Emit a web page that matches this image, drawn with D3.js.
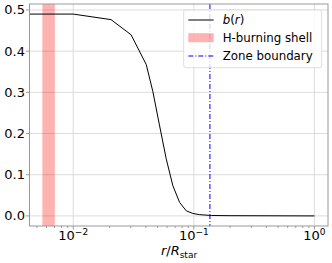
<!DOCTYPE html>
<html>
  <head>
    <meta charset="utf-8">
    <script src="https://cdn.jsdelivr.net/npm/d3@7"></script>
    <style>
      body { margin: 0; background: #fff; }
      text { font-family: "DejaVu Sans", sans-serif; fill: #000; }
    </style>
  </head>
  <body>
    <svg width="332" height="263"></svg>
    <script>
      // data
      const radius = [0.00434, 0.01, 0.0206, 0.0302, 0.0403, 0.0457, 0.0519, 0.059, 0.067, 0.0762, 0.0866, 0.0983, 0.112, 0.14, 0.2, 1.0];
      const bValues = [0.49, 0.49, 0.4765, 0.4397, 0.3676, 0.3025, 0.2206, 0.139, 0.0735, 0.0328, 0.0123, 0.0059, 0.003, 0.001, 0.0005, 0];
      const shellRange = [0.00555, 0.00704];
      const zoneBoundary = 0.136;
      const yTicks = [0.0, 0.1, 0.2, 0.3, 0.4, 0.5];
      const xTicks = [0.01, 0.1, 1];
      const xTickExp = ["\u22122", "\u22121", "0"];
      const legendLabels = ["b(r)", "H-burning shell", "Zone boundary"];

      const pLeft = 29.5, pRight = 328, pTop = 4, pBottom = 226;
      const svg = d3.select("svg");

      let x = d3.scaleLog().domain([0.00434, 1.296]).range([pLeft, pRight]);
      let y = d3.scaleLinear().domain([-0.0245, 0.5145]).range([pBottom, pTop]);

      // grid
      svg.append("g").selectAll("line").data(yTicks).enter().append("line")
        .attr("x1", pLeft).attr("x2", pRight)
        .attr("y1", d => y(d)).attr("y2", d => y(d))
        .attr("stroke", "#dcdcdc").attr("stroke-width", 1);
      svg.append("g").selectAll("line").data(xTicks).enter().append("line")
        .attr("x1", d => x(d)).attr("x2", d => x(d))
        .attr("y1", pTop).attr("y2", pBottom)
        .attr("stroke", "#dcdcdc").attr("stroke-width", 1);

      // shell band
      svg.append("rect")
        .attr("x", x(shellRange[0])).attr("width", x(shellRange[1]) - x(shellRange[0]))
        .attr("y", pTop).attr("height", pBottom - pTop)
        .attr("fill", "#ff0000").attr("fill-opacity", 0.3);

      // curve
      let line = d3.line().x((d, i) => x(radius[i])).y(d => y(d));
      svg.append("path").datum(bValues)
        .attr("d", line).attr("fill", "none")
        .attr("stroke", "#000").attr("stroke-width", 1);

      // zone boundary
      svg.append("line")
        .attr("x1", x(zoneBoundary)).attr("x2", x(zoneBoundary))
        .attr("y1", pTop).attr("y2", pBottom)
        .attr("stroke", "#0000ff").attr("stroke-width", 1)
        .attr("stroke-dasharray", "5,2,1,2");

      // spines
      svg.append("rect")
        .attr("x", pLeft).attr("y", pTop)
        .attr("width", pRight - pLeft).attr("height", pBottom - pTop)
        .attr("fill", "none").attr("stroke", "#999").attr("stroke-width", 1);

      // y axis ticks
      let yAxis = svg.append("g");
      yTicks.forEach(t => {
        yAxis.append("line").attr("x1", pLeft - 3.5).attr("x2", pLeft)
          .attr("y1", y(t)).attr("y2", y(t)).attr("stroke", "#999");
        yAxis.append("text").attr("x", pLeft - 4.5).attr("y", y(t))
          .attr("text-anchor", "end").attr("dominant-baseline", "central")
          .attr("font-size", 13).text(t.toFixed(1));
      });

      // x axis ticks (major + minor)
      let xAxis = svg.append("g");
      let minor = [];
      for (let e = -3; e <= 0; e++) {
        for (let k = 2; k <= 9; k++) {
          let v = k * Math.pow(10, e);
          if (v > 0.00434 && v < 1.296) minor.push(v);
        }
      }
      xAxis.selectAll(".minor").data(minor).enter().append("line")
        .attr("x1", d => x(d)).attr("x2", d => x(d))
        .attr("y1", pBottom).attr("y2", pBottom + 2)
        .attr("stroke", "#999");
      xTicks.forEach((t, i) => {
        xAxis.append("line").attr("x1", x(t)).attr("x2", x(t))
          .attr("y1", pBottom).attr("y2", pBottom + 3.5).attr("stroke", "#999");
        let lab = xAxis.append("text").attr("x", x(t)).attr("y", 240)
          .attr("text-anchor", "middle").attr("font-size", 13);
        lab.append("tspan").text("10");
        lab.append("tspan").attr("font-size", 9).attr("dy", -5).text(xTickExp[i]);
      });

      // x label
      let xl = svg.append("text").attr("x", 179).attr("y", 255)
        .attr("text-anchor", "middle").attr("font-size", 13);
      xl.append("tspan").attr("font-style", "italic").text("r");
      xl.append("tspan").text("/");
      xl.append("tspan").attr("font-style", "italic").text("R");
      xl.append("tspan").attr("font-size", 9).attr("dy", 3).text("star");

      // legend
      let lg = svg.append("g");
      lg.append("rect").attr("x", 183.7).attr("y", 10).attr("width", 138).attr("height", 57.7)
        .attr("rx", 2).attr("fill", "#fff").attr("fill-opacity", 0.8)
        .attr("stroke", "#ddd").attr("stroke-width", 1);
      let rows = [20, 37.7, 56];
      lg.append("line").attr("x1", 188.3).attr("x2", 213.7).attr("y1", rows[0]).attr("y2", rows[0])
        .attr("stroke", "#000").attr("stroke-width", 1);
      lg.append("rect").attr("x", 188.3).attr("y", rows[1] - 4.5).attr("width", 25.4).attr("height", 9)
        .attr("fill", "#ff0000").attr("fill-opacity", 0.3);
      lg.append("line").attr("x1", 188.3).attr("x2", 213.7).attr("y1", rows[2]).attr("y2", rows[2])
        .attr("stroke", "#0000ff").attr("stroke-width", 1).attr("stroke-dasharray", "5,2,1,2");
      legendLabels.forEach((l, i) => {
        let t = lg.append("text").attr("x", 222.7).attr("y", rows[i])
          .attr("dominant-baseline", "central").attr("font-size", 11.8);
        if (i === 0) {
          t.append("tspan").attr("font-style", "italic").text("b");
          t.append("tspan").text("(");
          t.append("tspan").attr("font-style", "italic").text("r");
          t.append("tspan").text(")");
        } else {
          t.text(l);
        }
      });
    </script>
  </body>
</html>
